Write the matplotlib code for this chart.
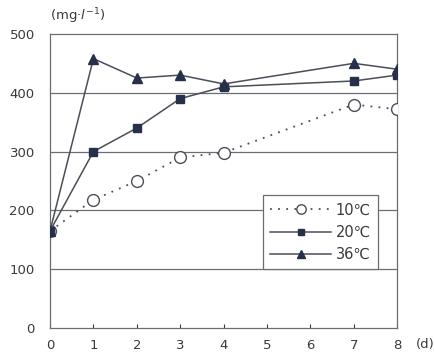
import matplotlib.pyplot as plt

days = [0, 1, 2, 3, 4, 7, 8]
t10 = [165, 218, 250, 290, 298, 380, 372]
t20 = [165, 300, 340, 390, 410, 420, 430]
t36 = [165, 458, 425, 430, 415, 450, 440]
labels = ["10\u2103", "20\u2103", "36\u2103"]

line_c = "#4a4e58"
mark_c = "#26304a"
text_c = "#3a3a3a"

fig = plt.figure(figsize=(4.35, 3.57), dpi=100)
ax = fig.add_axes([0.115, 0.081, 0.798, 0.824])

# horizontal grid
for yv in [100, 200, 300, 400]:
    ax.axhline(yv, color="#6a6e74", lw=0.9, zorder=1)

ax.plot(days, t10, color=line_c, lw=1.3, ls=(0, (1, 3.5)), marker="o", ms=8.5,
        mfc="white", mec=line_c, mew=1.0, label=labels[0], zorder=3)
ax.plot(days, t20, color=line_c, lw=1.1, marker="s", ms=6,
        mfc=mark_c, mec=mark_c, label=labels[1], zorder=3)
ax.plot(days, t36, color=line_c, lw=1.1, marker="^", ms=6.5,
        mfc=mark_c, mec=mark_c, label=labels[2], zorder=3)

ax.set_xlim(0, 8)
ax.set_ylim(0, 500)
ax.set_xticks(range(0, 9))
ax.set_yticks(range(0, 501, 100))
ax.tick_params(axis="x", direction="in", length=3, pad=8, colors=text_c,
               labelsize=9.5)
ax.tick_params(axis="y", length=0, pad=11, colors=text_c, labelsize=9.5)
for s in ax.spines.values():
    s.set_color("#6a6e74")
    s.set_linewidth(0.9)

leg = ax.legend(loc="lower right", bbox_to_anchor=(0.945, 0.2), fontsize=10.5,
                frameon=True, fancybox=False, edgecolor="#6a6e74",
                handlelength=4.2, handletextpad=0.3, borderpad=0.5,
                labelspacing=0.5, framealpha=1, borderaxespad=0,
                markerscale=0.8)
leg.get_frame().set_linewidth(0.9)
for t in leg.get_texts():
    t.set_color(text_c)

fig.text(0.115, 0.955, "(mg\u00b7$l^{-1}$)", fontsize=9.5, color=text_c,
         ha="left", va="center")
fig.text(0.955, 0.035, "(d)", fontsize=9.5, color=text_c, ha="left",
         va="center")

fig.savefig("out.png", dpi=100)
